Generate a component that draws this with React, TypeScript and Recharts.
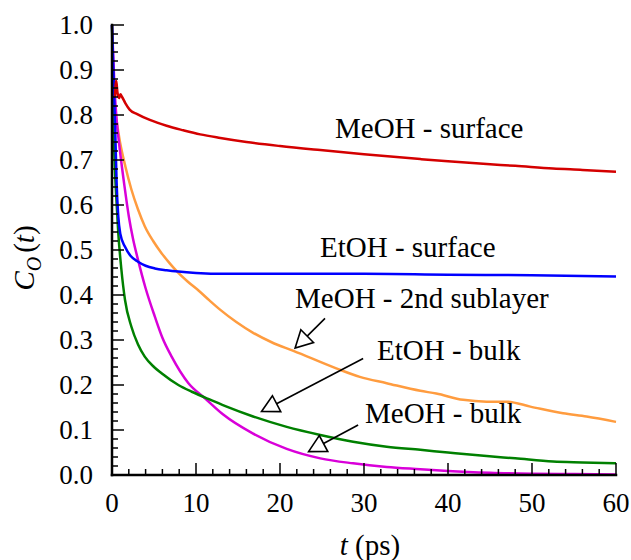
import {
  LineChart,
  Line,
  XAxis,
  YAxis,
  ReferenceLine,
  ReferenceDot,
} from 'recharts'

// time (ps) and C_O(t) for each curve
const meohSurfT = [0.35, 0.5, 0.65, 0.85, 1.0, 1.2, 1.6, 2.1, 3, 4.5, 6.5, 8.5, 10.5, 12.9, 16, 20, 24.8, 30, 36.7, 40, 44.6, 48, 52.5, 56, 60]
const meohSurfC = [0.84, 0.876, 0.85, 0.838, 0.846, 0.84, 0.826, 0.812, 0.802, 0.789, 0.776, 0.766, 0.757, 0.749, 0.74, 0.731, 0.722, 0.713, 0.702, 0.697, 0.691, 0.687, 0.681, 0.678, 0.674]

const etohSurfT = [0, 0.25, 0.45, 0.55, 0.75, 1.0, 1.55, 2.2, 3.1, 4, 5.1, 6.5, 7.9, 10, 13.5, 20, 30, 40, 50, 60]
const etohSurfC = [1.0, 0.85, 0.72, 0.65, 0.574, 0.535, 0.507, 0.487, 0.474, 0.465, 0.459, 0.455, 0.452, 0.449, 0.447, 0.447, 0.447, 0.445, 0.444, 0.441]

const meohSubT = [0.3, 0.95, 1.6, 2.3, 3.1, 3.9, 4.9, 5.9, 6.8, 7.7, 9, 10.3, 11.6, 12.9, 14.8, 16.8, 19, 21.6, 26.7, 29.5, 32.7, 36.7, 38.6, 41.8, 44.6, 47, 49.8, 53.7, 56.5, 60]
const meohSubC = [0.82, 0.74, 0.685, 0.635, 0.59, 0.553, 0.52, 0.493, 0.472, 0.453, 0.43, 0.41, 0.388, 0.367, 0.34, 0.316, 0.295, 0.276, 0.237, 0.218, 0.204, 0.187, 0.181, 0.167, 0.163, 0.163, 0.152, 0.137, 0.13, 0.118]

const etohBulkT = [0, 0.27, 0.5, 0.75, 1.1, 1.55, 2.3, 3.1, 3.9, 5, 5.9, 7.9, 9.5, 11.1, 13.5, 16.8, 20.8, 24.8, 28.7, 32.7, 36.7, 40, 44.6, 48, 52.5, 56, 60]
const etohBulkC = [1.0, 0.72, 0.62, 0.537, 0.46, 0.389, 0.33, 0.29, 0.263, 0.24, 0.226, 0.2, 0.185, 0.172, 0.153, 0.13, 0.107, 0.089, 0.074, 0.063, 0.056, 0.05, 0.042, 0.037, 0.03, 0.028, 0.026]

const meohBulkT = [0, 0.3, 0.55, 0.95, 1.5, 2.0, 2.5, 3.1, 4, 5.1, 6, 7.1, 9.1, 11.1, 13.2, 16.8, 20.8, 24.8, 28.7, 32.7, 36.7, 40, 45, 50, 55, 60]
const meohBulkC = [1.0, 0.86, 0.79, 0.72, 0.64, 0.575, 0.525, 0.478, 0.415, 0.352, 0.305, 0.263, 0.204, 0.17, 0.135, 0.092, 0.058, 0.037, 0.026, 0.018, 0.013, 0.009, 0.005, 0.003, 0.002, 0.001]

const xMajor = [0, 10, 20, 30, 40, 50, 60]
const xTicks = Array.from({ length: 31 }, (_, i) => i * 2)
const yTicks = Array.from({ length: 51 }, (_, i) => Math.round(i * 2) / 100)

// annotation text, placed at left / baseline in data units
const labelNames = ['MeOH - surface', 'EtOH - surface', 'MeOH - 2nd sublayer', 'EtOH - bulk', 'MeOH - bulk']
const labelT = [26.55, 24.76, 21.79, 31.55, 30.12]
const labelC = [0.749, 0.484, 0.371, 0.256, 0.116]

// arrows: tail (t, C) -> tip (t, C)
const arrowTailT = [25.36, 29.9, 29.3]
const arrowTailC = [0.348, 0.259, 0.111]
const arrowTipT = [21.8, 17.8, 23.4]
const arrowTipC = [0.282, 0.141, 0.052]

const zip = (ts: number[], cs: number[]) => ts.map((t, i) => ({ t, c: cs[i] }))

const FONT = 'Liberation Serif'
const MAJOR = 12
const MINOR = 6

const isMajorX = (v: number) => xMajor.includes(v)
const isMajorY = (v: number) => Math.round(v * 100) % 10 === 0

function BottomTick({ x, y, payload }: any) {
  const v = payload.value
  const major = isMajorX(v)
  return (
    <g>
      <line x1={x} y1={y} x2={x} y2={y - (major ? MAJOR : MINOR)} stroke="#000" strokeWidth={1.5} />
      {major && (
        <text x={x} y={y + 37} textAnchor="middle" fontSize={27} fontFamily={FONT} fill="#000">
          {v}
        </text>
      )}
    </g>
  )
}

function TopTick({ x, y, payload }: any) {
  const major = isMajorX(payload.value)
  return <line x1={x} y1={y} x2={x} y2={y + (major ? MAJOR : MINOR)} stroke="#000" strokeWidth={1.5} />
}

function LeftTick({ x, y, payload }: any) {
  const v = payload.value
  const major = isMajorY(v)
  return (
    <g>
      <line x1={x} y1={y} x2={x + (major ? MAJOR : MINOR)} y2={y} stroke="#000" strokeWidth={1.5} />
      {major && (
        <text x={x - 19} y={y + 8.5} textAnchor="end" fontSize={27} fontFamily={FONT} fill="#000">
          {v.toFixed(1)}
        </text>
      )}
    </g>
  )
}

function RightTick({ x, y, payload }: any) {
  const major = isMajorY(payload.value)
  return <line x1={x} y1={y} x2={x - (major ? MAJOR : MINOR)} y2={y} stroke="#000" strokeWidth={1.5} />
}

function Arrow(props: any) {
  const { x1, y1, x2, y2 } = props
  const dx = x2 - x1
  const dy = y2 - y1
  const len = Math.sqrt(dx * dx + dy * dy)
  const ux = dx / len
  const uy = dy / len
  const L = 17
  const W = 9
  const bx = x2 - ux * L
  const by = y2 - uy * L
  const pts = `${x2},${y2} ${bx - uy * W},${by + ux * W} ${bx + uy * W},${by - ux * W}`
  return (
    <g>
      <line x1={x1} y1={y1} x2={bx} y2={by} stroke="#000" strokeWidth={1.6} />
      <polygon points={pts} fill="#fff" stroke="#000" strokeWidth={1.6} />
    </g>
  )
}

const frame = { stroke: '#000', strokeWidth: 2.5, strokeLinecap: 'square' as const }

export default function App() {
  return (
    <div style={{ position: 'absolute', left: 0, top: 0, background: '#fff' }}>
      <LineChart width={631} height={560} margin={{ top: 25, right: 15, bottom: 0, left: 0 }}>
        <XAxis
          dataKey="t"
          type="number"
          domain={[0, 60]}
          ticks={xTicks}
          interval={0}
          height={85}
          tickSize={0}
          tickMargin={0}
          tickLine={false}
          axisLine={frame}
          tick={<BottomTick />}
          label={{
            content: () => (
              <text x={370} y={555} textAnchor="middle" fontSize={29} fontFamily={FONT} fill="#000">
                <tspan fontStyle="italic">t</tspan>
                <tspan> (ps)</tspan>
              </text>
            ),
          }}
        />
        <XAxis
          xAxisId="top"
          orientation="top"
          type="number"
          domain={[0, 60]}
          ticks={xTicks}
          interval={0}
          height={0}
          tickSize={0}
          tickMargin={0}
          tickLine={false}
          axisLine={frame}
          tick={<TopTick />}
        />
        <YAxis
          type="number"
          domain={[0, 1]}
          ticks={yTicks}
          interval={0}
          width={112}
          tickSize={0}
          tickMargin={0}
          tickLine={false}
          axisLine={frame}
          tick={<LeftTick />}
          label={{
            content: () => (
              <text
                x={34}
                y={258}
                textAnchor="middle"
                fontSize={29}
                fontFamily={FONT}
                fill="#000"
                transform="rotate(-90, 34, 258)"
              >
                <tspan fontStyle="italic">C</tspan>
                <tspan fontStyle="italic" fontSize={20} dy={7}>O</tspan>
                <tspan dy={-7} dx={4}>(</tspan>
                <tspan fontStyle="italic">t</tspan>
                <tspan>)</tspan>
              </text>
            ),
          }}
        />
        <YAxis
          yAxisId="right"
          orientation="right"
          type="number"
          domain={[0, 1]}
          ticks={yTicks}
          interval={0}
          width={0}
          tickSize={0}
          tickMargin={0}
          tickLine={false}
          axisLine={frame}
          tick={<RightTick />}
        />

        <Line data={zip(meohSubT, meohSubC)} dataKey="c" type="monotone" stroke="#ff9c3f" strokeWidth={2.5} dot={false} isAnimationActive={false} />
        <Line data={zip(meohBulkT, meohBulkC)} dataKey="c" type="monotone" stroke="#d900d9" strokeWidth={2.5} dot={false} isAnimationActive={false} />
        <Line data={zip(etohBulkT, etohBulkC)} dataKey="c" type="monotone" stroke="#008000" strokeWidth={2.5} dot={false} isAnimationActive={false} />
        <Line data={zip(etohSurfT, etohSurfC)} dataKey="c" type="monotone" stroke="#0000ff" strokeWidth={2.5} dot={false} isAnimationActive={false} />
        <Line data={zip(meohSurfT, meohSurfC)} dataKey="c" type="monotone" stroke="#d40000" strokeWidth={2.5} dot={false} isAnimationActive={false} />

        {arrowTailT.map((t, i) => (
          <ReferenceLine
            key={`arrow-${i}`}
            segment={[
              { x: t, y: arrowTailC[i] },
              { x: arrowTipT[i], y: arrowTipC[i] },
            ]}
            shape={<Arrow />}
          />
        ))}
        {labelNames.map((name, i) => (
          <ReferenceDot
            key={name}
            x={labelT[i]}
            y={labelC[i]}
            r={0}
            shape={(p: any) => (
              <text x={p.cx} y={p.cy} fontSize={29} fontFamily={FONT} fill="#000">
                {name}
              </text>
            )}
          />
        ))}
      </LineChart>
    </div>
  )
}
